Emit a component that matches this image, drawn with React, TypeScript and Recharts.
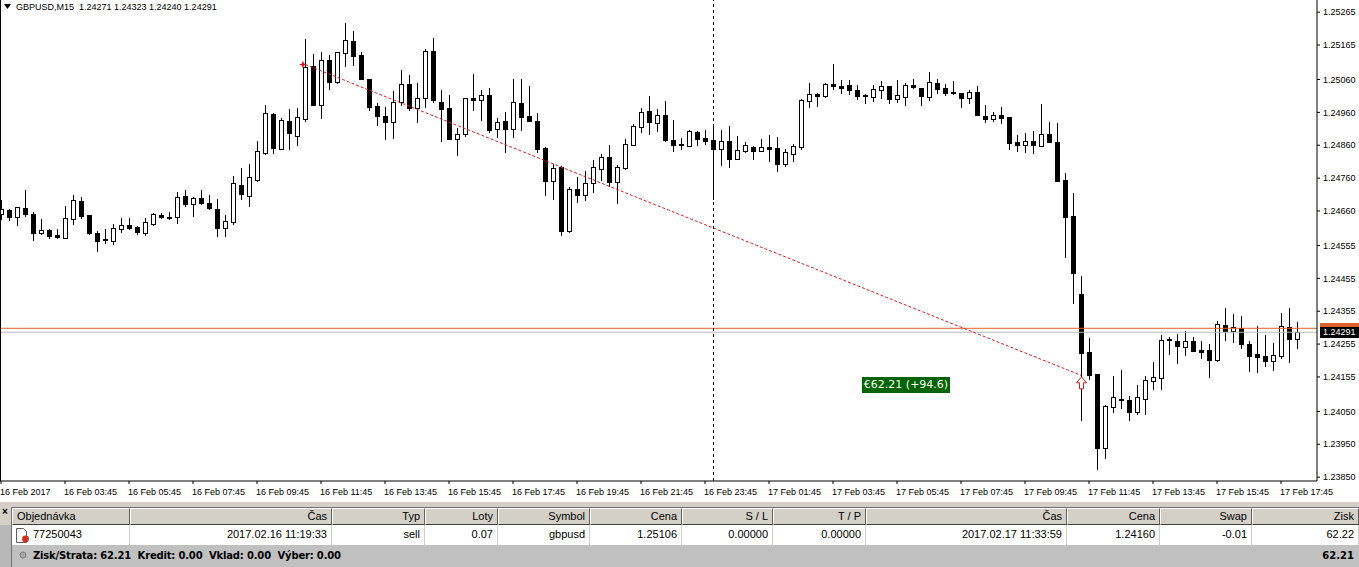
import React from 'react';
import { ComposedChart, Bar, Line, XAxis, YAxis, ReferenceLine } from 'recharts';

const highs = [
  1.24693,1.24665,1.24672,1.24724,1.24657,1.24636,1.24604,1.24605,1.24675,1.24709,
  1.24703,1.24648,1.24599,1.24606,1.24620,1.24639,1.24639,1.24614,1.24638,1.24653,
  1.24653,1.24657,1.24718,1.24723,1.24703,1.24723,1.24709,1.24696,1.24648,1.24766,
  1.24791,1.24803,1.24873,1.24982,1.24957,1.24942,1.24970,1.24973,1.25182,1.25138,
  1.25144,1.25134,1.25144,1.25231,1.25208,1.25143,1.25062,1.24988,1.24975,1.25025,
  1.25089,1.25074,1.25049,1.25153,1.25186,1.25028,1.25013,1.24912,1.25004,1.25077,
  1.25028,1.25033,1.24942,1.24960,1.25062,1.25062,1.25040,1.24958,1.24855,1.24803,
  1.24797,1.24733,1.24763,1.24782,1.24815,1.24833,1.24861,1.24800,1.24879,1.24925,
  1.24972,1.25010,1.24970,1.24995,1.24937,1.24882,1.24906,1.24903,1.24906,1.24922,
  1.24906,1.24919,1.24888,1.24870,1.24858,1.24879,1.24891,1.24885,1.24849,1.24864,
  1.25000,1.25049,1.25019,1.25049,1.25107,1.25059,1.25059,1.25043,1.25016,1.25043,
  1.25056,1.25040,1.25059,1.25049,1.25062,1.25034,1.25083,1.25062,1.25046,1.25056,
  1.25019,1.25028,1.25040,1.24982,1.24961,1.24976,1.24946,1.24891,1.24897,1.24903,
  1.24986,1.24931,1.24928,1.24776,1.24715,1.24462,1.24273,1.24164,1.24070,1.24158,
  1.24176,1.24097,1.24130,1.24158,1.24200,1.24283,1.24277,1.24286,1.24295,1.24277,
  1.24264,1.24255,1.24325,1.24365,1.24347,1.24340,1.24264,1.24310,1.24283,1.24258,
  1.24350,1.24365,1.24323,
];

const opens = [
  1.24651,1.24663,1.24643,1.24669,1.24651,1.24594,1.24602,1.24587,1.24579,1.24636,
  1.24690,1.24648,1.24593,1.24575,1.24570,1.24606,1.24617,1.24611,1.24594,1.24621,
  1.24648,1.24643,1.24643,1.24705,1.24682,1.24699,1.24683,1.24665,1.24609,1.24627,
  1.24738,1.24706,1.24754,1.24836,1.24955,1.24850,1.24934,1.24889,1.24941,1.25100,
  1.24983,1.25119,1.25053,1.25140,1.25177,1.25135,1.25062,1.24979,1.24949,1.24932,
  1.24993,1.25046,1.24973,1.25005,1.25147,1.24992,1.24973,1.24878,1.24895,1.25004,
  1.24999,1.25013,1.24910,1.24934,1.24910,1.24989,1.24949,1.24934,1.24852,1.24752,
  1.24794,1.24599,1.24727,1.24710,1.24744,1.24789,1.24824,1.24749,1.24792,1.24861,
  1.24916,1.24964,1.24929,1.24952,1.24876,1.24864,1.24858,1.24900,1.24882,1.24876,
  1.24849,1.24873,1.24818,1.24843,1.24855,1.24843,1.24855,1.24852,1.24803,1.24833,
  1.24855,1.24995,1.25016,1.25010,1.25046,1.25040,1.25043,1.25028,1.25013,1.25007,
  1.25028,1.25040,1.25001,1.25007,1.25043,1.25034,1.25008,1.25049,1.25034,1.25022,
  1.25019,1.25004,1.25022,1.24949,1.24940,1.24952,1.24946,1.24870,1.24861,1.24873,
  1.24858,1.24894,1.24870,1.24754,1.24645,1.24407,1.24231,1.24164,1.23939,1.24063,
  1.24088,1.24085,1.24048,1.24088,1.24143,1.24152,1.24266,1.24264,1.24246,1.24264,
  1.24237,1.24237,1.24207,1.24313,1.24295,1.24304,1.24255,1.24225,1.24219,1.24203,
  1.24219,1.24307,1.24271,
];

const closes = [
  1.24666,1.24643,1.24671,1.24651,1.24594,1.24601,1.24584,1.24581,1.24638,1.24692,
  1.24646,1.24593,1.24569,1.24573,1.24607,1.24616,1.24608,1.24597,1.24626,1.24650,
  1.24642,1.24641,1.24702,1.24682,1.24699,1.24684,1.24669,1.24608,1.24629,1.24744,
  1.24712,1.24762,1.24842,1.24957,1.24852,1.24936,1.24897,1.24945,1.25099,1.24982,
  1.25119,1.25053,1.25143,1.25180,1.25132,1.25062,1.24977,1.24949,1.24931,1.24991,
  1.25045,1.24972,1.25003,1.25147,1.24998,1.24970,1.24879,1.24893,1.25003,1.24998,
  1.25012,1.24906,1.24930,1.24910,1.24992,1.24946,1.24934,1.24849,1.24751,1.24791,
  1.24599,1.24727,1.24709,1.24744,1.24794,1.24824,1.24748,1.24794,1.24864,1.24919,
  1.24960,1.24931,1.24951,1.24876,1.24861,1.24862,1.24903,1.24879,1.24873,1.24849,
  1.24873,1.24818,1.24846,1.24861,1.24843,1.24855,1.24849,1.24803,1.24839,1.24858,
  1.24998,1.25016,1.25010,1.25046,1.25040,1.25034,1.25028,1.25010,1.25011,1.25030,
  1.25040,1.25001,1.25013,1.25043,1.25037,1.25010,1.25052,1.25031,1.25019,1.25019,
  1.25004,1.25021,1.24952,1.24940,1.24952,1.24943,1.24867,1.24861,1.24873,1.24861,
  1.24894,1.24870,1.24751,1.24642,1.24471,1.24228,1.24161,1.23939,1.24067,1.24094,
  1.24085,1.24048,1.24094,1.24146,1.24155,1.24267,1.24269,1.24249,1.24264,1.24234,
  1.24231,1.24207,1.24316,1.24295,1.24307,1.24255,1.24219,1.24216,1.24203,1.24222,
  1.24310,1.24270,1.24291,
];

const lows = [
  1.24633,1.24630,1.24614,1.24642,1.24570,1.24587,1.24576,1.24576,1.24579,1.24617,
  1.24636,1.24587,1.24535,1.24560,1.24556,1.24594,1.24602,1.24587,1.24584,1.24614,
  1.24636,1.24633,1.24620,1.24673,1.24642,1.24678,1.24663,1.24581,1.24581,1.24617,
  1.24693,1.24673,1.24748,1.24830,1.24833,1.24846,1.24846,1.24858,1.24932,1.24980,
  1.24941,1.25028,1.25046,1.25099,1.25101,1.25062,1.24965,1.24919,1.24876,1.24879,
  1.24979,1.24965,1.24928,1.24973,1.24989,1.24870,1.24876,1.24827,1.24886,1.24965,
  1.24934,1.24898,1.24882,1.24837,1.24882,1.24903,1.24934,1.24836,1.24706,1.24693,
  1.24584,1.24593,1.24684,1.24690,1.24715,1.24751,1.24733,1.24681,1.24785,1.24858,
  1.24897,1.24891,1.24900,1.24870,1.24839,1.24846,1.24856,1.24858,1.24861,1.24693,
  1.24797,1.24791,1.24818,1.24836,1.24815,1.24839,1.24809,1.24779,1.24794,1.24809,
  1.24846,1.24973,1.24976,1.25004,1.25028,1.25016,1.25013,1.24998,1.24986,1.24992,
  1.25001,1.24986,1.24989,1.24979,1.25031,1.24979,1.24995,1.25016,1.25010,1.25013,
  1.24973,1.24986,1.24949,1.24928,1.24931,1.24925,1.24846,1.24839,1.24836,1.24833,
  1.24855,1.24867,1.24748,1.24517,1.24377,1.24021,1.24146,1.23872,1.23905,1.24045,
  1.24057,1.24021,1.24039,1.24039,1.24115,1.24115,1.24222,1.24194,1.24219,1.24231,
  1.24210,1.24152,1.24200,1.24264,1.24258,1.24240,1.24170,1.24167,1.24185,1.24173,
  1.24210,1.24197,1.24240,
];

const priceTicks = [1.25265,1.25165,1.2506,1.2496,1.2486,1.2476,1.2466,1.24555,1.24455,1.24355,1.24255,1.24155,1.2405,1.2395,1.2385];
const timeTickIndex = [0,8,16,24,32,40,48,56,64,72,80,88,96,104,112,120,128,136,144,152,160];
const timeTickLabels = [
  '16 Feb 2017','16 Feb 03:45','16 Feb 05:45','16 Feb 07:45','16 Feb 09:45','16 Feb 11:45','16 Feb 13:45',
  '16 Feb 15:45','16 Feb 17:45','16 Feb 19:45','16 Feb 21:45','16 Feb 23:45','17 Feb 01:45','17 Feb 03:45',
  '17 Feb 05:45','17 Feb 07:45','17 Feb 09:45','17 Feb 11:45','17 Feb 13:45','17 Feb 15:45','17 Feb 17:45',
];
const title = 'GBPUSD,M15  1.24271 1.24323 1.24240 1.24291';
const bidPrice = 1.24291;
const askPrice = 1.24303;
const cursorIndex = 89;
const tradeOpenIndex = 38;
const tradeCloseIndex = 135;
const tradeOpenPrice = 1.25106;
const tradeClosePrice = 1.2416;
const profitLabel = '€62.21 (+94.6)';

const columnHeaders = ['Objednávka','Čas','Typ','Loty','Symbol','Cena','S / L','T / P','Čas','Cena','Swap','Zisk'];
const columnRow = ['77250043','2017.02.16 11:19:33','sell','0.07','gbpusd','1.25106','0.00000','0.00000','2017.02.17 11:33:59','1.24160','-0.01','62.22'];
const columnEdges = [11,130,332,425,498,590,682,773,866,1067,1160,1252,1359];
const footerLeft = 'Zisk/Strata: 62.21  Kredit: 0.00  Vklad: 0.00  Výber: 0.00';
const footerRight = '62.21';

const data = highs.map((h, k) => ({
  k,
  high: h,
  low: lows[k],
  open: opens[k],
  close: closes[k],
  trade: k === tradeOpenIndex ? tradeOpenPrice : k === tradeCloseIndex ? tradeClosePrice : null,
}));

const FONT = '"Liberation Sans", Arial, sans-serif';

function Candle(props: any) {
  const { x, y, width, height, payload } = props;
  const top = Math.min(y, y + height);
  const h = Math.abs(height);
  const scale = h / (payload.high - payload.low);
  const py = (p: number) => top + (payload.high - p) * scale;
  const cx = Math.round(x + width / 2);
  const up = payload.close >= payload.open;
  const t = Math.round(py(Math.max(payload.open, payload.close)));
  const b = Math.round(py(Math.min(payload.open, payload.close)));
  return (
    <g shapeRendering="crispEdges">
      <line x1={cx + 0.5} x2={cx + 0.5} y1={Math.round(top)} y2={Math.round(top + h)} stroke="#000" strokeWidth={1} />
      <rect x={cx - 1.5} y={t + 0.5} width={4} height={Math.max(b - t, 1)} fill={up ? '#fff' : '#000'} stroke="#000" strokeWidth={1} />
    </g>
  );
}

function TradeDot(props: any) {
  const { cx, cy, index } = props;
  if (cx == null || cy == null) return null;
  if (index === tradeOpenIndex) {
    const x = cx - 2;
    return (
      <g key="open">
        <path d={`M${x} ${cy - 4} L${x + 1} ${cy - 1} L${x + 4} ${cy} L${x + 1} ${cy + 1} L${x} ${cy + 4} L${x - 1} ${cy + 1} L${x - 4} ${cy} L${x - 1} ${cy - 1} Z`} fill="#e0101c" />
      </g>
    );
  }
  if (index === tradeCloseIndex) {
    const x = cx + 0.5;
    const t = cy + 1.5;
    return (
      <path key="close" d={`M${x} ${t} L${x + 5} ${t + 6} L${x + 2} ${t + 6} L${x + 2} ${t + 12} L${x - 2} ${t + 12} L${x - 2} ${t + 6} L${x - 5} ${t + 6} Z`} fill="#fff" stroke="#d02020" strokeWidth={1} />
    );
  }
  return <g key={`n${index}`} />;
}

function TimeTick(props: any) {
  const { x, y, payload } = props;
  const label = timeTickLabels[timeTickIndex.indexOf(payload.value)];
  return (
    <text x={x - 1} y={y + 9} textAnchor="start" fontFamily={FONT} fontSize={9} fill="#000">{label}</text>
  );
}

const abs = (s: React.CSSProperties): React.CSSProperties => ({ position: 'absolute', boxSizing: 'border-box', whiteSpace: 'pre', ...s });

export default function App() {
  return (
    <div style={abs({ left: 0, top: 0, width: 1359, height: 567, overflow: 'hidden', background: '#fff', fontFamily: FONT })}>
      <div style={abs({ left: 0, top: 0 })}>
        <ComposedChart width={1359} height={567} data={data} margin={{ top: 0, right: 0, bottom: 0, left: -3 }} barCategoryGap={0}>
          <XAxis
            dataKey="k"
            type="category"
            height={86}
            ticks={timeTickIndex}
            interval={0}
            tick={<TimeTick />}
            tickLine={{ stroke: '#000' }}
            tickSize={3}
            axisLine={{ stroke: '#000' }}
            padding={{ left: 0, right: 16 }}
            allowDuplicatedCategory={false}
          />
          <YAxis
            orientation="right"
            width={42}
            type="number"
            domain={[1.25302 - 481 * 0.00003043, 1.25302]}
            allowDataOverflow
            ticks={priceTicks}
            interval={0}
            tickFormatter={(v: number) => v.toFixed(5)}
            tick={{ fontFamily: FONT, fontSize: 9, fill: '#000' }}
            tickSize={3}
            tickMargin={3}
            tickLine={{ stroke: '#000' }}
            axisLine={{ stroke: '#000' }}
          />
          <ReferenceLine y={askPrice} stroke="#e0602c" strokeWidth={1} />
          <ReferenceLine y={bidPrice} stroke="#b4bcbc" strokeWidth={1} />
          <Bar dataKey={(d: any) => [d.low, d.high]} isAnimationActive={false} shape={<Candle />} />
          <ReferenceLine x={cursorIndex} stroke="#000" strokeDasharray="3 3" strokeWidth={1} shapeRendering="crispEdges" />
          <Line
            dataKey="trade"
            connectNulls
            isAnimationActive={false}
            stroke="#e02020"
            strokeWidth={1}
            strokeDasharray="3 2"
            dot={(p: any) => <TradeDot {...p} />}
            activeDot={false}
            legendType="none"
          />
        </ComposedChart>
      </div>

      {/* left frame */}
      <div style={abs({ left: 0, top: 0, width: 1, height: 481, background: '#000' })} />

      {/* title */}
      <svg style={abs({ left: 4, top: 4 })} width={8} height={6}><path d="M0 0 H7 L3.5 5 Z" fill="#000" /></svg>
      <div style={abs({ left: 16, top: 1, fontSize: 9, lineHeight: '12px', color: '#000' })}>{title}</div>

      {/* price tags */}
      <div style={abs({ left: 1320, top: 323, width: 39, height: 5, background: '#e0602c' })} />
      <div style={abs({ left: 1320, top: 327, width: 39, height: 11, background: '#000', color: '#fff', fontSize: 9, lineHeight: '11px', paddingLeft: 3 })}>{bidPrice.toFixed(5)}</div>

      {/* profit label */}
      <div style={abs({ left: 862, top: 377, width: 88, height: 16, background: '#006400', color: '#fff', fontFamily: '"DejaVu Sans", sans-serif', fontSize: 11, lineHeight: '16px', textAlign: 'center' })}>{profitLabel}</div>

      {/* terminal */}
      <div style={abs({ left: 0, top: 502, width: 1359, height: 65, background: '#d4d0c8' })} />
      <div style={abs({ left: 0, top: 525, width: 11, height: 42, background: '#b8b8b8' })} />
      <div style={abs({ left: 2, top: 507, fontSize: 10, fontWeight: 700, lineHeight: '9px' })}>×</div>
      <div style={abs({ left: 11, top: 507, width: 1348, height: 1, background: '#707070' })} />
      <div style={abs({ left: 11, top: 507, width: 1, height: 60, background: '#707070' })} />
      <div style={abs({ left: 12, top: 525, width: 1347, height: 20, background: '#fff' })} />
      <div style={abs({ left: 12, top: 545, width: 1347, height: 22, background: '#c0c0c0' })} />
      {columnHeaders.map((h, i) => {
        const l = columnEdges[i] + (i === 0 ? 1 : 0);
        const w = columnEdges[i + 1] - l;
        return (
          <React.Fragment key={i}>
            <div style={abs({ left: l, top: 508, width: w, height: 17, background: '#d4d0c8', borderTop: '1px solid #fff', borderLeft: '1px solid #fff', borderRight: '1px solid #606060', borderBottom: '1px solid #404040', fontSize: 11, lineHeight: '15px', textAlign: i === 0 ? 'left' : 'right', padding: '0 4px', color: '#000' })}>{h}</div>
            <div style={abs({ left: l, top: 525, width: w, height: 20, borderRight: '1px solid #d4d0c8', fontSize: 11, lineHeight: '19px', textAlign: i === 0 ? 'left' : 'right', padding: i === 0 ? '0 0 0 21px' : '0 4px', color: '#000' })}>{columnRow[i]}</div>
          </React.Fragment>
        );
      })}
      <svg style={abs({ left: 14, top: 526 })} width={16} height={18}>
        <path d="M2.5 2.5 H9.5 L12.5 5.5 V16.5 H2.5 Z" fill="#fff" stroke="#606060" />
        <circle cx={11.5} cy={13} r={3.4} fill="#d03020" />
      </svg>
      <svg style={abs({ left: 18, top: 549 })} width={12} height={12}><circle cx={5} cy={6} r={3} fill="#a8a8a8" stroke="#808080" /></svg>
      <div style={abs({ left: 33, top: 545, fontFamily: '"DejaVu Sans", sans-serif', fontSize: 10, fontWeight: 700, letterSpacing: -0.18, lineHeight: '21px' })}>{footerLeft}</div>
      <div style={abs({ right: 5, top: 545, fontFamily: '"DejaVu Sans", sans-serif', fontSize: 10, fontWeight: 700, lineHeight: '21px' })}>{footerRight}</div>
    </div>
  );
}
